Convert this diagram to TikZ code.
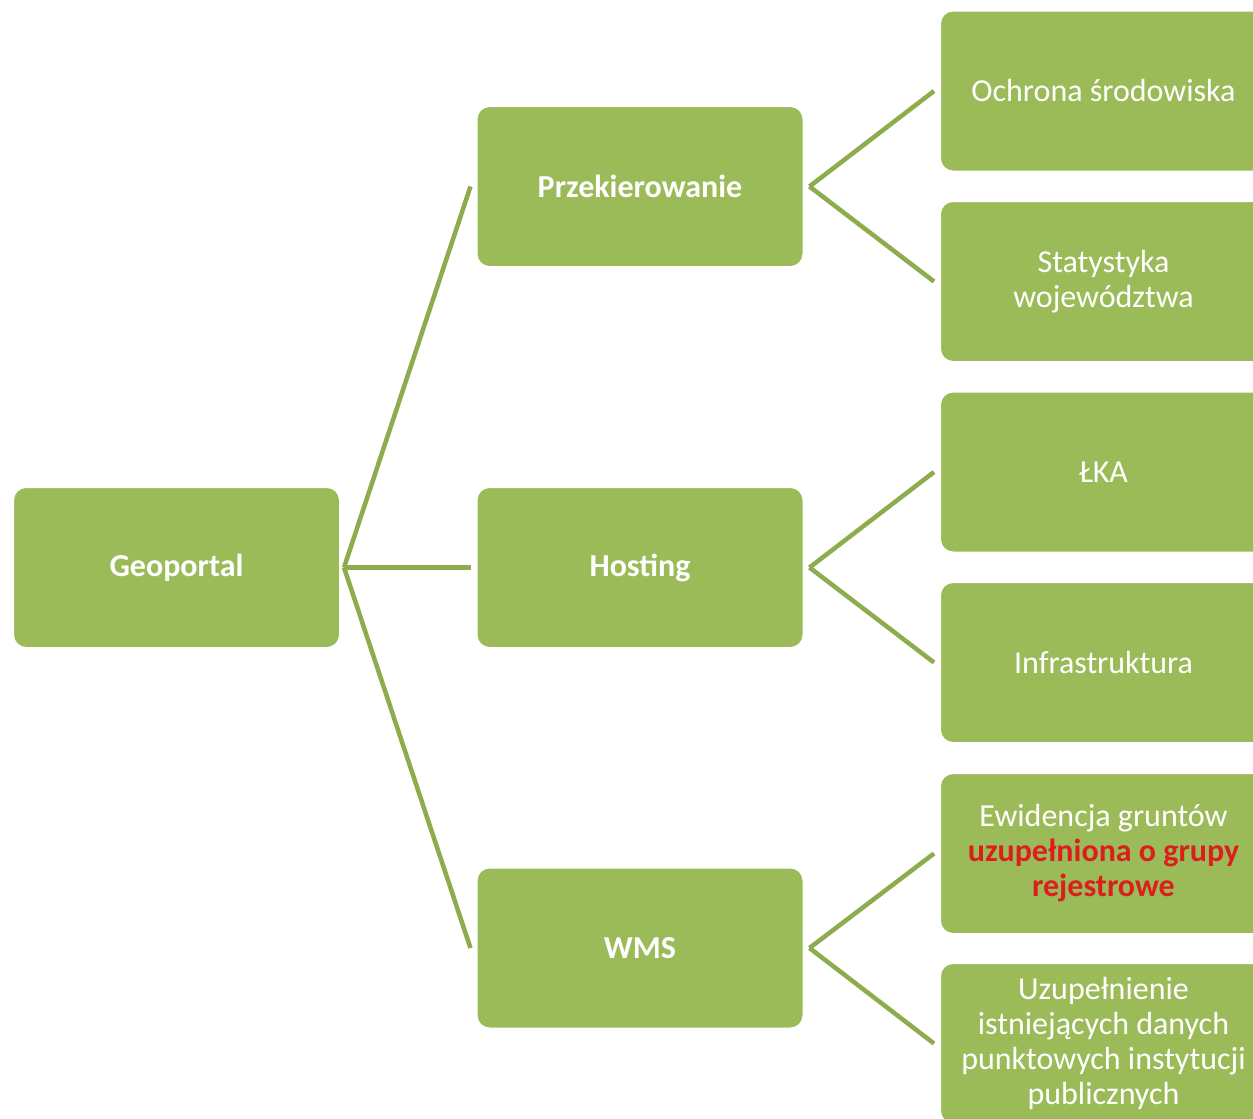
\documentclass[tikz,border=0pt]{standalone}
\usepackage{fontspec}
\setmainfont{Carlito}
\definecolor{boxgreen}{HTML}{9BBB59}
\definecolor{linegreen}{HTML}{8CAC4E}
\definecolor{redtext}{HTML}{DC1E1E}
\begin{document}
\begin{tikzpicture}[x=1pt,y=-1pt,
  box/.style={rectangle, rounded corners=13pt, fill=boxgreen, draw=white, line width=2pt,
    minimum width=327pt, minimum height=161pt, inner sep=2pt, text=white, align=center,
    font=\fontsize{32}{35}\selectfont},
  boldbox/.style={box, font=\fontsize{32}{35}\selectfont\bfseries},
  link/.style={draw=linegreen, line width=4.5pt}]
\clip (0,0) rectangle (1253,1119);
\fill[white] (0,0) rectangle (1253,1119);
\node[boldbox] (geo) at (176.5,567.5) {Geoportal};
\node[boldbox] (prz) at (640,186.5) {Przekierowanie};
\node[boldbox] (hos) at (640,567.5) {Hosting};
\node[boldbox] (wms) at (640,948) {WMS};
\node[box] (och) at (1103.5,91) {Ochrona środowiska};
\node[box] (sta) at (1103.5,281.5) {Statystyka\\województwa};
\node[box] (lka) at (1103.5,472) {ŁKA};
\node[box] (inf) at (1103.5,662.5) {Infrastruktura};
\node[box] (ewi) at (1103.5,853.5) {Ewidencja gruntów\\{\color{redtext}\bfseries uzupełniona o grupy}\\{\color{redtext}\bfseries rejestrowe}};
\node[box] (uzu) at (1103.5,1043.5) {Uzupełnienie\\istniejących danych\\punktowych instytucji\\publicznych};
\draw[link] ([xshift=3pt]geo.east) -- ([xshift=-5pt]prz.west);
\draw[link] ([xshift=3pt]geo.east) -- ([xshift=-5pt]hos.west);
\draw[link] ([xshift=3pt]geo.east) -- ([xshift=-5pt]wms.west);
\draw[link] ([xshift=5pt]prz.east) -- ([xshift=-5pt]och.west);
\draw[link] ([xshift=5pt]prz.east) -- ([xshift=-5pt]sta.west);
\draw[link] ([xshift=5pt]hos.east) -- ([xshift=-5pt]lka.west);
\draw[link] ([xshift=5pt]hos.east) -- ([xshift=-5pt]inf.west);
\draw[link] ([xshift=5pt]wms.east) -- ([xshift=-5pt]ewi.west);
\draw[link] ([xshift=5pt]wms.east) -- ([xshift=-5pt]uzu.west);
\end{tikzpicture}
\end{document}
